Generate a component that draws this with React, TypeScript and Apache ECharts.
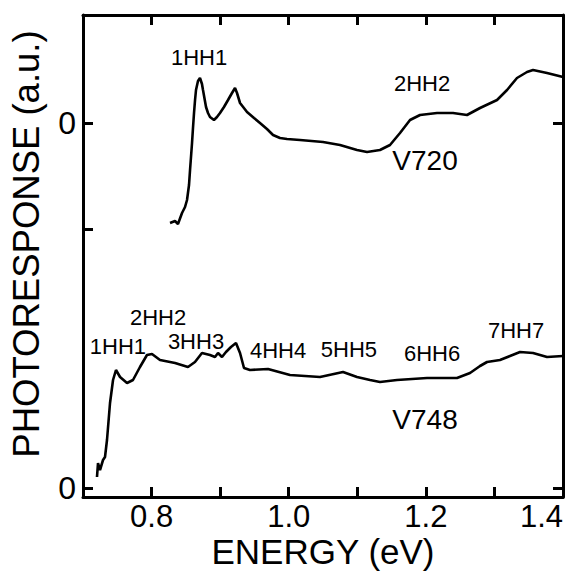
import React, { useEffect, useRef } from "react";
import * as echarts from "echarts";

// V720 (upper spectrum), values relative to its own zero
const v720Energy = [0.8269, 0.8342, 0.8385, 0.8444, 0.8488, 0.8517, 0.8546, 0.8561, 0.8575, 0.859, 0.8604, 0.8619, 0.8634, 0.8648, 0.8677, 0.8706, 0.8735, 0.875, 0.8794, 0.8823, 0.8852, 0.891, 0.8954, 0.8998, 0.9056, 0.9115, 0.9173, 0.9217, 0.9246, 0.929, 0.9392, 0.9494, 0.9581, 0.9683, 0.9771, 0.9873, 0.9975, 1.0165, 1.05, 1.0748, 1.0996, 1.1142, 1.1331, 1.1477, 1.1623, 1.1769, 1.1915, 1.2163, 1.2396, 1.26, 1.279, 1.3038, 1.3184, 1.3329, 1.3475, 1.3563, 1.3767, 1.4];
const v720Response = [-1.0, -0.98, -1.01, -0.9, -0.84, -0.77, -0.62, -0.47, -0.34, -0.2, -0.05, 0.1, 0.23, 0.33, 0.42, 0.45, 0.39, 0.33, 0.16, 0.1, 0.06, 0.03, 0.06, 0.1, 0.16, 0.23, 0.3, 0.35, 0.3, 0.2, 0.11, 0.05, 0.0, -0.06, -0.12, -0.15, -0.16, -0.17, -0.19, -0.22, -0.27, -0.29, -0.27, -0.22, -0.1, 0.03, 0.08, 0.1, 0.1, 0.08, 0.15, 0.23, 0.33, 0.45, 0.51, 0.53, 0.5, 0.46];
const v720Offset = 3.65;

// V748 (lower spectrum)
const v748Energy = [0.7204, 0.7219, 0.7248, 0.7292, 0.7321, 0.735, 0.7394, 0.7438, 0.7481, 0.754, 0.7642, 0.7729, 0.7831, 0.7933, 0.8006, 0.8123, 0.8342, 0.8531, 0.8633, 0.8735, 0.8852, 0.8925, 0.8969, 0.9027, 0.9085, 0.9158, 0.9231, 0.929, 0.9348, 0.9435, 0.9698, 1.0019, 1.0456, 1.0792, 1.0996, 1.1186, 1.1331, 1.1579, 1.2017, 1.2454, 1.2644, 1.279, 1.2892, 1.3081, 1.3227, 1.3373, 1.3563, 1.3767, 1.4];
const v748Response = [0.11, 0.25, 0.18, 0.28, 0.31, 0.48, 0.85, 1.08, 1.18, 1.11, 1.05, 1.08, 1.21, 1.33, 1.34, 1.28, 1.25, 1.21, 1.26, 1.35, 1.33, 1.31, 1.35, 1.31, 1.36, 1.41, 1.45, 1.35, 1.2, 1.18, 1.19, 1.13, 1.11, 1.16, 1.11, 1.08, 1.06, 1.08, 1.1, 1.1, 1.15, 1.22, 1.26, 1.28, 1.32, 1.36, 1.35, 1.31, 1.32];
const v748Offset = 0;

// Annotations
const annotationTexts = ["1HH1", "2HH2", "V720", "1HH1", "2HH2", "3HH3", "4HH4", "5HH5", "6HH6", "7HH7", "V748"];
const annotationEnergy = [0.8692, 1.1944, 1.1988, 0.751, 0.8094, 0.8648, 0.9844, 1.0879, 1.209, 1.3315, 1.1988];
const annotationLevel = [4.305, 4.05, 3.28, 1.42, 1.71, 1.47, 1.38, 1.39, 1.35, 1.58, 0.69];

// Axis
const xMin = 0.7;
const xMax = 1.4;
const xInterval = 0.1;
const yMin = -0.09;
const yMax = 4.73;
const leftTicks = [0, 2.59, 3.65];
const rightTicks = [0, 3.65];
const zeroLabels = [0, 3.65];

const FONT = "'Liberation Sans', Arial, Helvetica, sans-serif";

export default function App() {
  const ref = useRef<HTMLDivElement>(null);
  useEffect(() => {
    if (!ref.current) return;
    const chart = echarts.init(ref.current, null, { renderer: "svg" });
    const axisLine = { show: true, onZero: false, lineStyle: { color: "#000", width: 3 } };
    const tick = { show: true, inside: true, length: 10, lineStyle: { color: "#000", width: 3 } };
    const buildLine = (xs: number[], ys: number[], off: number) =>
      xs.map((x, i) => [x, ys[i] + off]);
    const labelData = annotationTexts.map((t, i) => ({
      name: t,
      value: [annotationEnergy[i], annotationLevel[i]],
      label: { fontSize: t.startsWith("V") ? 28 : 22 },
    }));
    chart.setOption({
      animation: false,
      textStyle: { fontFamily: FONT, color: "#000" },
      grid: {
        left: 83,
        right: 14,
        top: 15,
        bottom: 74,
        containLabel: false,
        outerBoundsMode: "none",
      },
      xAxis: [
        {
          type: "value",
          position: "bottom",
          min: xMin,
          max: xMax,
          interval: xInterval,
          axisLine,
          axisTick: tick,
          splitLine: { show: false },
          axisLabel: {
            fontSize: 31,
            lineHeight: 31,
            color: "#000",
            fontFamily: FONT,
            margin: 4,
            alignMaxLabel: "right",
            formatter: (v: number) => {
              const k = Math.round(v * 10);
              return k % 2 === 0 && k >= 8 ? (k / 10).toFixed(1) : "";
            },
          },
          name: "ENERGY (eV)",
          nameLocation: "middle",
          nameGap: 37,
          nameMoveOverlap: false,
          nameTextStyle: { fontSize: 35, lineHeight: 35, color: "#000", fontFamily: FONT },
        },
        {
          type: "value",
          position: "top",
          min: xMin,
          max: xMax,
          interval: xInterval,
          axisLine,
          axisTick: tick,
          axisLabel: { show: false },
          splitLine: { show: false },
        },
      ],
      yAxis: [
        {
          type: "value",
          position: "left",
          min: yMin,
          max: yMax,
          axisLine,
          axisTick: { ...tick, customValues: leftTicks },
          splitLine: { show: false },
          axisLabel: {
            customValues: zeroLabels,
            formatter: () => "0",
            fontSize: 32,
            color: "#000",
            fontFamily: FONT,
            margin: 7,
          },
          name: "PHOTORESPONSE (a.u.)",
          nameLocation: "middle",
          nameGap: 38,
          nameTextStyle: { fontSize: 36.5, color: "#000", fontFamily: FONT, padding: [0, 0, 0, 24] },
        },
        {
          type: "value",
          position: "right",
          min: yMin,
          max: yMax,
          axisLine,
          axisTick: { ...tick, customValues: rightTicks },
          axisLabel: { show: false },
          splitLine: { show: false },
        },
      ],
      series: [
        {
          name: "V720",
          type: "line",
          data: buildLine(v720Energy, v720Response, v720Offset),
          showSymbol: false,
          symbol: "none",
          lineStyle: { color: "#000", width: 2.6 },
          silent: true,
        },
        {
          name: "V748",
          type: "line",
          data: buildLine(v748Energy, v748Response, v748Offset),
          showSymbol: false,
          symbol: "none",
          lineStyle: { color: "#000", width: 2.6 },
          silent: true,
        },
        {
          name: "labels",
          type: "scatter",
          symbolSize: 0,
          silent: true,
          itemStyle: { opacity: 1, color: "#000" },
          data: labelData,
          label: {
            show: true,
            position: "inside",
            formatter: (p: any) => p.name,
            color: "#000",
            opacity: 1,
            textBorderWidth: 0,
            fontFamily: FONT,
          },
        },
      ],
    });
    return () => chart.dispose();
  }, []);
  return (
    <div
      ref={ref}
      style={{ position: "absolute", left: 0, top: 0, width: 577, height: 571, background: "#fff" }}
    />
  );
}
